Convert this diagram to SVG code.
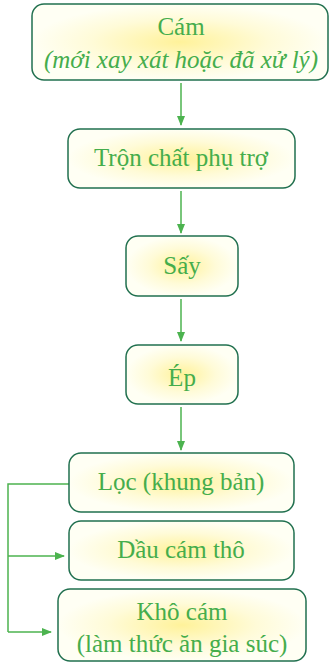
<svg xmlns="http://www.w3.org/2000/svg" width="329" height="664" viewBox="0 0 329 664">
<style>
.box{fill:url(#g);stroke:#21704f;stroke-width:1.5}
.t{font-family:"Liberation Serif","DejaVu Serif",serif;font-size:25px;fill:#45ad4c;text-anchor:middle}
.i{font-style:italic}
.c{fill:none;stroke:#4cb34f;stroke-width:1.5}
</style>
<defs>
<radialGradient id="g" cx="0.5" cy="0.5" r="0.5">
<stop offset="0" stop-color="#fff29a"/>
<stop offset="0.6" stop-color="#fffbd8"/>
<stop offset="1" stop-color="#fffff4"/>
</radialGradient>
<marker id="a" markerWidth="10" markerHeight="10" refX="9" refY="5" orient="auto" markerUnits="userSpaceOnUse">
<path d="M0,1 L10,5 L0,9 Z" fill="#4cb34f"/>
</marker>
</defs>
<g id="connectors">
<line class="c" x1="181" y1="83" x2="181" y2="125" marker-end="url(#a)"/>
<line class="c" x1="181" y1="191" x2="181" y2="233" marker-end="url(#a)"/>
<line class="c" x1="181" y1="299" x2="181" y2="341" marker-end="url(#a)"/>
<line class="c" x1="181" y1="407" x2="181" y2="450" marker-end="url(#a)"/>
<polyline class="c" points="69,484 8,484 8,632"/>
<line class="c" x1="8" y1="556" x2="64" y2="556" marker-end="url(#a)"/>
<line class="c" x1="8" y1="632" x2="51" y2="632" marker-end="url(#a)"/>
</g>
<g id="n1">
<rect class="box" x="32" y="4" width="296" height="76" rx="12"/>
<text class="t" x="181" y="35">Cám</text>
<text class="t i" x="181" y="68">(mới xay xát hoặc đã xử lý)</text>
</g>
<g id="n2">
<rect class="box" x="68" y="129" width="227" height="59" rx="12"/>
<text class="t" x="181" y="166">Trộn chất phụ trợ</text>
</g>
<g id="n3">
<rect class="box" x="126" y="236" width="112" height="60" rx="12"/>
<text class="t" x="182" y="274">Sấy</text>
</g>
<g id="n4">
<rect class="box" x="126" y="345" width="112" height="59" rx="12"/>
<text class="t" x="182" y="386">Ép</text>
</g>
<g id="n5">
<rect class="box" x="69" y="453" width="225" height="59" rx="12"/>
<text class="t" x="181" y="490">Lọc (khung bản)</text>
</g>
<g id="n6">
<rect class="box" x="69" y="521" width="225" height="59" rx="12"/>
<text class="t" x="181" y="558">Dầu cám thô</text>
</g>
<g id="n7">
<rect class="box" x="58" y="589" width="248" height="72" rx="12"/>
<text class="t" x="182" y="620">Khô cám</text>
<text class="t" x="182" y="652">(làm thức ăn gia súc)</text>
</g>
</svg>
